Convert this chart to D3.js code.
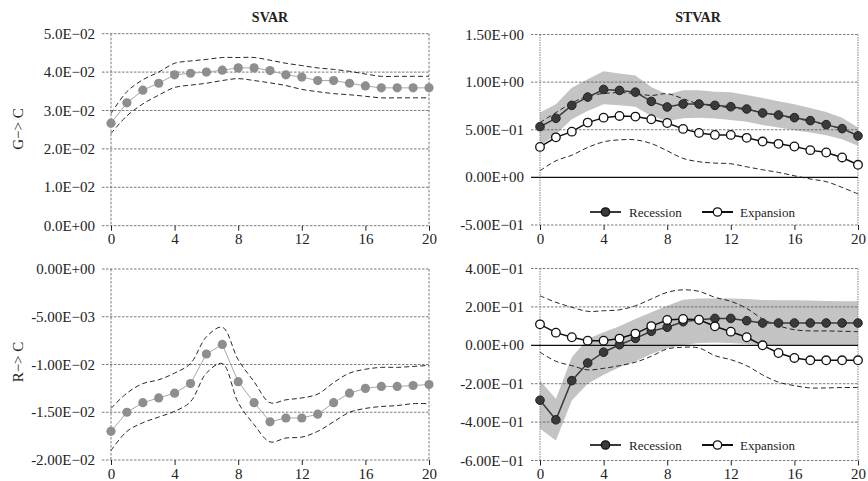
<!DOCTYPE html>
<html><head><meta charset="utf-8">
<script src="https://cdn.jsdelivr.net/npm/d3@7"></script>
<style>body{margin:0;background:#fff}svg{display:block}text{font-family:"Liberation Serif","Times New Roman",serif;fill:#222}</style>
</head><body><svg id="c" width="868" height="481"></svg>
<script>
const horizons = [0,1,2,3,4,5,6,7,8,9,10,11,12,13,14,15,16,17,18,19,20];
const xTicks = [0,4,8,12,16,20];

// SVAR G->C
const svarGC = [0.0267,0.0320,0.0353,0.0371,0.0393,0.0397,0.0400,0.0405,0.0411,0.0411,0.0404,0.0393,0.0387,0.0378,0.0378,0.0371,0.0364,0.0359,0.0359,0.0359,0.0359];
const svarGCUp = [0.0292,0.0349,0.0380,0.0400,0.0423,0.0429,0.0433,0.0438,0.0438,0.0438,0.0431,0.0423,0.0417,0.0411,0.0407,0.0402,0.0395,0.0389,0.0389,0.0389,0.0389];
const svarGCLo = [0.0240,0.0286,0.0317,0.0340,0.0360,0.0366,0.0371,0.0378,0.0383,0.0378,0.0372,0.0365,0.0355,0.0349,0.0344,0.0341,0.0337,0.0333,0.0333,0.0333,0.0333];
const gcTicks = [0,0.01,0.02,0.03,0.04,0.05];
const gcLabels = ["0.0E+00","1.0E\u221202","2.0E\u221202","3.0E\u221202","4.0E\u221202","5.0E\u221202"];

// SVAR R->C
const svarRC = [-0.0170,-0.0150,-0.0140,-0.0135,-0.0130,-0.0120,-0.0089,-0.0079,-0.0118,-0.0140,-0.0160,-0.0156,-0.0156,-0.0152,-0.0140,-0.0130,-0.0125,-0.0123,-0.0123,-0.0122,-0.0121];
const svarRCUp = [-0.0146,-0.0130,-0.0120,-0.0116,-0.0109,-0.0099,-0.0071,-0.0061,-0.0095,-0.0118,-0.0140,-0.0137,-0.0135,-0.0131,-0.0119,-0.0109,-0.0105,-0.0103,-0.0103,-0.0102,-0.0101];
const svarRCLo = [-0.0190,-0.0170,-0.0161,-0.0155,-0.0149,-0.0139,-0.0109,-0.0099,-0.0140,-0.0163,-0.0181,-0.0177,-0.0176,-0.0170,-0.0160,-0.0150,-0.0146,-0.0144,-0.0143,-0.0141,-0.0141];
const rcTicks = [-0.02,-0.015,-0.01,-0.005,0];
const rcLabels = ["-2.00E\u221202","-1.50E\u221202","-1.00E\u221202","-5.00E\u221203","0.00E+00"];

// STVAR G->C
const recGC = [0.533,0.620,0.756,0.843,0.923,0.913,0.895,0.798,0.739,0.770,0.770,0.756,0.742,0.718,0.676,0.655,0.627,0.596,0.554,0.512,0.436];
const recGCUp = [0.680,0.767,0.940,1.030,1.115,1.090,1.070,0.950,0.870,0.916,0.916,0.900,0.895,0.864,0.833,0.800,0.767,0.728,0.686,0.627,0.523];
const recGCLo = [0.330,0.450,0.610,0.697,0.767,0.756,0.742,0.645,0.592,0.620,0.627,0.617,0.603,0.585,0.550,0.523,0.495,0.470,0.442,0.400,0.331];
const expGC = [0.320,0.420,0.480,0.575,0.627,0.645,0.638,0.610,0.571,0.509,0.467,0.446,0.446,0.415,0.376,0.352,0.324,0.286,0.261,0.209,0.132];
const expGCUp = [0.575,0.680,0.780,0.854,0.880,0.890,0.880,0.860,0.878,0.826,0.770,0.750,0.730,0.710,0.680,0.650,0.620,0.590,0.550,0.510,0.440];
const expGCLo = [0.070,0.174,0.233,0.314,0.373,0.394,0.394,0.355,0.279,0.199,0.164,0.150,0.143,0.111,0.080,0.052,0.017,-0.017,-0.045,-0.105,-0.174];
const stGcTicks = [-0.5,0,0.5,1.0,1.5];
const stGcLabels = ["-5.00E\u221201","0.00E+00","5.00E\u221201","1.00E+00","1.50E+00"];

// STVAR R->C
const recRC = [-0.286,-0.388,-0.184,-0.092,-0.036,0.003,0.036,0.073,0.094,0.123,0.133,0.140,0.140,0.128,0.116,0.116,0.116,0.116,0.116,0.116,0.116];
const recRCUp = [-0.184,-0.279,-0.062,0.033,0.068,0.099,0.137,0.172,0.206,0.237,0.244,0.244,0.244,0.241,0.236,0.235,0.234,0.233,0.231,0.230,0.229];
const recRCLo = [-0.435,-0.496,-0.288,-0.200,-0.154,-0.114,-0.085,-0.045,-0.016,0.002,0.012,0.015,0.012,0.007,0.002,0.002,0.002,0.002,0.002,0.002,0.002];
const expRC = [0.109,0.066,0.042,0.024,0.024,0.035,0.061,0.100,0.132,0.137,0.133,0.099,0.071,0.042,0.000,-0.040,-0.066,-0.078,-0.078,-0.078,-0.078];
const expRCUp = [0.258,0.224,0.198,0.177,0.180,0.185,0.206,0.241,0.276,0.289,0.281,0.250,0.229,0.192,0.137,0.102,0.081,0.075,0.075,0.073,0.071];
const expRCLo = [-0.036,-0.083,-0.106,-0.128,-0.120,-0.106,-0.088,-0.057,-0.019,-0.010,-0.014,-0.054,-0.075,-0.106,-0.154,-0.192,-0.210,-0.222,-0.222,-0.220,-0.220];
const stRcTicks = [-0.6,-0.4,-0.2,0,0.2,0.4];
const stRcLabels = ["-6.00E\u221201","-4.00E\u221201","-2.00E\u221201","0.00E+00","2.00E\u221201","4.00E\u221201"];

const titles = ["SVAR","STVAR"];
const rowLabels = ["G\u2212> C","R\u2212> C"];
const legendNames = ["Recession","Expansion"];

const svg = d3.select("#c");

function panel(o){
  const x = d3.scaleLinear().domain([0,20]).range([o.x0,o.x1]);
  const y = d3.scaleLinear().domain(o.domain).range([o.y1,o.y0]);
  const g = svg.append("g");
  const lightGrid = o.st;
  if(o.band){
    g.append("path").datum(horizons)
      .attr("d", d3.area().x(d=>x(d)).y0((d,i)=>y(o.band[1][i])).y1((d,i)=>y(o.band[0][i])))
      .attr("fill","#c4c4c4");
  }
  o.ticks.forEach((t,i)=>{
    g.append("line").attr("x1",o.x0-9).attr("x2",o.x1).attr("y1",y(t)).attr("y2",y(t))
      .attr("stroke", (o.zero && t===0) ? "none" : "#555").attr("stroke-width",0.8)
      .attr("stroke-dasharray","2.5,1.5");
    g.append("text").attr("x",o.x0-16).attr("y",y(t)).attr("text-anchor","end")
      .attr("dominant-baseline","central").attr("font-size",15).text(o.labels[i]);
  });
  [o.x0,o.x1].forEach(xx=>{
    g.append("line").attr("x1",xx).attr("x2",xx).attr("y1",o.y0).attr("y2",o.y1)
      .attr("stroke", lightGrid ? "#999" : "#555").attr("stroke-width", lightGrid?1.2:0.8)
      .attr("stroke-dasharray", lightGrid ? "1.5,1" : "2.5,1.5");
  });
  const ax = g.append("g").attr("transform",`translate(0,${o.y1})`)
    .call(d3.axisBottom(x).tickValues(xTicks).tickSize(5).tickPadding(3).tickFormat(d3.format("d")));
  ax.select(".domain").remove();
  ax.selectAll(".tick line").attr("stroke","#222");
  ax.selectAll("text").attr("font-size",15).attr("font-family","Liberation Serif").attr("fill","#222");
  if(o.zero){
    g.append("line").attr("x1",o.x0-9).attr("x2",o.x1).attr("y1",y(0)).attr("y2",y(0))
      .attr("stroke","#111").attr("stroke-width",1.3);
  }
  const smooth = d3.line().x(d=>x(d)).curve(d3.curveCatmullRom.alpha(0.5));
  o.dashed.forEach(arr=>{
    g.append("path").datum(horizons).attr("d", smooth.y((d,i)=>y(arr[i])))
      .attr("fill","none").attr("stroke","#111").attr("stroke-width",0.9).attr("stroke-dasharray","5,3");
  });
  o.series.forEach(s=>{
    g.append("path").datum(horizons).attr("d", d3.line().x(d=>x(d)).y((d,i)=>y(s.v[i])))
      .attr("fill","none").attr("stroke",s.line).attr("stroke-width",s.lw);
    g.selectAll(null).data(horizons).enter().append("circle")
      .attr("cx",d=>x(d)).attr("cy",(d,i)=>y(s.v[i])).attr("r",s.r)
      .attr("fill",s.fill).attr("stroke",s.stroke).attr("stroke-width",s.sw);
  });
  if(o.legendY){
    const items = [{lx:590,tx:629,fill:"#3a3a3a",line:"#3a3a3a"},{lx:702,tx:740,fill:"#fff",line:"#111"}];
    items.forEach((it,i)=>{
      g.append("line").attr("x1",it.lx).attr("x2",it.lx+31).attr("y1",o.legendY).attr("y2",o.legendY)
        .attr("stroke",it.line).attr("stroke-width",2);
      g.append("circle").attr("cx",it.lx+15.5).attr("cy",o.legendY).attr("r",4.2)
        .attr("fill",it.fill).attr("stroke","#111").attr("stroke-width",1.3);
      g.append("text").attr("x",it.tx).attr("y",o.legendY).attr("dominant-baseline","central")
        .attr("font-size",13).text(legendNames[i]);
    });
  }
}

const svarStyle = v => ({v, line:"#a8a8a8", lw:1, r:4.6, fill:"#8e8e8e", stroke:"none", sw:0});
const recStyle = v => ({v, line:"#3a3a3a", lw:1.5, r:4.3, fill:"#3a3a3a", stroke:"#222", sw:1});
const expStyle = v => ({v, line:"#111", lw:1.5, r:4.3, fill:"#fff", stroke:"#111", sw:1.3});

panel({x0:111,x1:429,y0:33.7,y1:225.7,domain:[0,0.05],ticks:gcTicks,labels:gcLabels,
  dashed:[svarGCUp,svarGCLo],series:[svarStyle(svarGC)]});
panel({x0:111,x1:429,y0:269,y1:460,domain:[-0.02,0],ticks:rcTicks,labels:rcLabels,
  dashed:[svarRCUp,svarRCLo],series:[svarStyle(svarRC)]});
panel({x0:540,x1:858,y0:34.5,y1:225,domain:[-0.5,1.5],ticks:stGcTicks,labels:stGcLabels,st:true,zero:true,
  band:[recGCUp,recGCLo],dashed:[expGCUp,expGCLo],series:[recStyle(recGC),expStyle(expGC)],legendY:212});
panel({x0:540,x1:858,y0:268.5,y1:460.5,domain:[-0.6,0.4],ticks:stRcTicks,labels:stRcLabels,st:true,zero:true,
  band:[recRCUp,recRCLo],dashed:[expRCUp,expRCLo],series:[recStyle(recRC),expStyle(expRC)],legendY:445});

svg.append("text").attr("x",270).attr("y",17).attr("text-anchor","middle").attr("dominant-baseline","central")
  .attr("font-size",14).attr("font-weight","bold").text(titles[0]);
svg.append("text").attr("x",698).attr("y",17).attr("text-anchor","middle").attr("dominant-baseline","central")
  .attr("font-size",14).attr("font-weight","bold").text(titles[1]);
[129,362].forEach((cy,i)=>{
  svg.append("text").attr("transform",`translate(18,${cy}) rotate(-90)`).attr("text-anchor","middle")
    .attr("dominant-baseline","central").attr("font-size",15).text(rowLabels[i]);
});
</script></body></html>
